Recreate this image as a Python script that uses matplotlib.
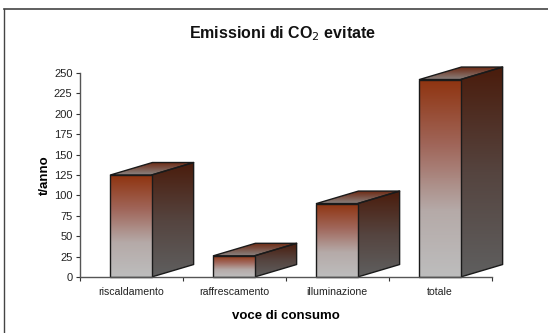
import numpy as np
import matplotlib
matplotlib.use('Agg')
import matplotlib.pyplot as plt
from matplotlib.colors import LinearSegmentedColormap
from matplotlib.lines import Line2D
from matplotlib.patches import Polygon

W, H = 548, 333

categorie = ['riscaldamento', 'raffrescamento', 'illuminazione', 'totale']
valori = [125, 26, 90, 242]
y_ticks = [0, 25, 50, 75, 100, 125, 150, 175, 200, 225, 250]

plt.rcParams['font.family'] = ['Liberation Sans', 'DejaVu Sans']

# colormaps run from the bottom of each face to its top
front_cm = LinearSegmentedColormap.from_list('front', ['#bdbdbd', '#b5aaa8', '#a0665a', '#8f3410'])
side_cm = LinearSegmentedColormap.from_list('side', ['#5f5f5f', '#55443f', '#4a1c0c'])
top_cm = LinearSegmentedColormap.from_list('top', ['#8a8482', '#6e2a14'])

BAR_W = 0.40
DX = 0.408   # depth of the 3d box, category units
DY = 15.3    # depth of the 3d box, data units


def face(ax, pts, cmap, zorder):
    pts = np.array(pts)
    x0, x1 = pts[:, 0].min(), pts[:, 0].max()
    y0, y1 = pts[:, 1].min(), pts[:, 1].max()
    grad = np.linspace(1, 0, 128).reshape(-1, 1)
    im = ax.imshow(grad, extent=[x0, x1, y0, y1], cmap=cmap, vmin=0, vmax=1,
                   aspect='auto', zorder=zorder)
    poly = Polygon(pts, closed=True, fc='none', ec='#1a1a1a', lw=1.0, zorder=zorder + 0.5,
                   clip_on=False, joinstyle='round')
    ax.add_patch(poly)
    im.set_clip_path(poly)
    # the boxes stick out past the axes, so only clip against the figure
    im.set_clip_box(ax.figure.bbox)


fig = plt.figure(figsize=(W / 100, H / 100), dpi=100, facecolor='white')

# chart frame, only the top and left edges are visible
fig.add_artist(Line2D([3.5 / W, 1], [1 - 9 / H, 1 - 9 / H], color='#444444', lw=1.2))
fig.add_artist(Line2D([3.5 / W, 3.5 / W], [0, 1 - 9 / H], color='#444444', lw=1.0))

ax = fig.add_axes([79.5 / W, 1 - 277 / H, 412 / W, 204 / H])
ax.patch.set_alpha(0)

for i, v in enumerate(valori):
    l = i + 0.5 - BAR_W / 2
    r = i + 0.5 + BAR_W / 2
    face(ax, [(r, 0), (r + DX, DY), (r + DX, v + DY), (r, v)], side_cm, 3)
    face(ax, [(l, v), (r, v), (r + DX, v + DY), (l + DX, v + DY)], top_cm, 3)
    face(ax, [(l, 0), (r, 0), (r, v), (l, v)], front_cm, 4)

ax.set_xlim(0, 4)
ax.set_ylim(0, 250)

for s in ['top', 'right']:
    ax.spines[s].set_visible(False)
for s in ['left', 'bottom']:
    ax.spines[s].set_color('#555555')
    ax.spines[s].set_linewidth(1.0)
    ax.spines[s].set_zorder(6)

ax.set_yticks(y_ticks)
ax.set_xticks(range(5))
ax.set_xticklabels([])
ax.set_xticks([i + 0.5 for i in range(4)], minor=True)
ax.set_xticklabels(categorie, minor=True, fontsize=7.6, color='#222222')
ax.tick_params(axis='x', which='minor', length=0, pad=7.5)
ax.tick_params(axis='x', which='major', length=3, width=0.8, color='#333333', direction='out')
ax.tick_params(axis='y', length=3, width=0.8, color='#333333', labelsize=8, labelcolor='#222222', pad=2)

ax.set_ylabel('t/anno', fontsize=9.5, fontweight='bold', labelpad=2)
ax.set_xlabel('voce di consumo', fontsize=9.5, fontweight='bold', labelpad=9)

fig.text(283 / W, 1 - 34 / H, 'Emissioni di CO$_2$ evitate', ha='center', va='center',
         fontsize=11.5, fontweight='bold', color='#111111')

fig.savefig('out.png', dpi=100)
